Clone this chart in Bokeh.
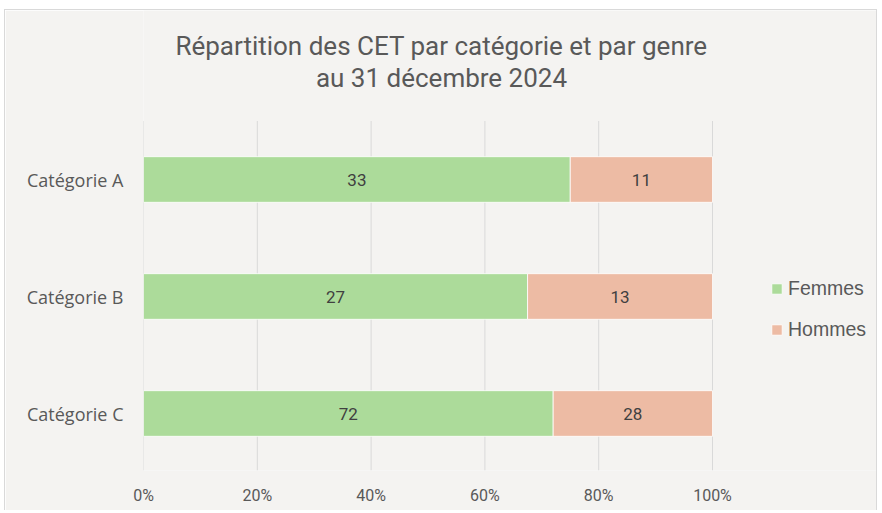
from bokeh.plotting import figure
from bokeh.models import (ColumnDataSource, Range1d, FixedTicker, Label,
                          Legend, LegendItem, NumeralTickFormatter)
from bokeh.core.properties import value
from bokeh.embed import file_html
from bokeh.resources import INLINE

categories = ["Catégorie A", "Catégorie B", "Catégorie C"]
femmes = [33, 27, 72]
hommes = [11, 13, 28]
series = ["Femmes", "Hommes"]
colors = ["#ACDB9A", "#EDBBA4"]
x_ticks = [0, 0.2, 0.4, 0.6, 0.8, 1.0]
title_lines = ["Répartition des CET par catégorie et par genre", "au 31 décembre 2024"]

FONT = "Roboto"
BG = "#F4F3F1"
TXT = "#595959"

n = len(categories)
ypos = [n - 1 - i for i in range(n)]           # first category on top
tot = [f + h for f, h in zip(femmes, hommes)]
pf = [f / t for f, t in zip(femmes, tot)]
ph = [h / t for h, t in zip(hommes, tot)]
src = ColumnDataSource(dict(
    y=ypos, Femmes=pf, Hommes=ph,
    fmid=[v / 2 for v in pf], hmid=[a + b / 2 for a, b in zip(pf, ph)],
    flab=[str(v) for v in femmes], hlab=[str(v) for v in hommes],
))

# layout: canvas placed at page (OX, OY) inside a 1px border
OX, OY = 5, 10
W, H = 873, 501
FL_PAGE, FB_PAGE = 143, 470      # frame left / bottom in page pixels
FL, FB = FL_PAGE - OX, FB_PAGE - OY
PX_X = 569                       # pixels for 0..100 %
PX_Y = 117                       # pixels between category rows
Y_LOW = 413 - OY                 # pixel row of the lowest category
x_start, x_end = 0, (W - FL) / PX_X
y_start, y_end = -(FB - Y_LOW) / PX_Y, Y_LOW / PX_Y

p = figure(width=W, height=H, output_backend="svg", toolbar_location=None,
           x_range=Range1d(x_start, x_end), y_range=Range1d(y_start, y_end),
           min_border_left=FL, min_border_right=0, min_border_top=0, min_border_bottom=H - FB,
           background_fill_color=BG, border_fill_color=BG, outline_line_color=None,
           styles={"margin-left": f"{OX - 1}px", "margin-top": f"{OY - 1}px",
                   "border": "1px solid #D9D9D9", "border-bottom": "none"})

# vertical gridlines, limited to the bar area
p.segment(x0=x_ticks, x1=x_ticks, y0=[y_start] * len(x_ticks), y1=[n - 0.5] * len(x_ticks),
          line_color="#D9D9D9", line_width=1, level="underlay")

rs = p.hbar_stack(series, y="y", height=0.39, color=colors, source=src,
                  line_color="white", line_width=0.8)

for xcol, tcol in (("fmid", "flab"), ("hmid", "hlab")):
    p.text(x=xcol, y="y", text=tcol, source=src, text_align="center", text_baseline="middle",
           text_font=value(FONT), text_font_size="17px", text_color="#404040")

p.xaxis.ticker = FixedTicker(ticks=x_ticks)
p.xaxis.formatter = NumeralTickFormatter(format="0%")
p.yaxis.ticker = FixedTicker(ticks=ypos)
p.yaxis.major_label_overrides = {yp: c for yp, c in zip(ypos, categories)}
for ax in (p.xaxis[0], p.yaxis[0]):
    ax.axis_line_color = None
    ax.major_tick_line_color = None
    ax.minor_tick_line_color = None
    ax.major_tick_out = 0
    ax.major_tick_in = 0
    ax.minor_tick_out = 0
    ax.major_label_text_color = TXT
p.xaxis.major_label_text_font = FONT
p.xaxis.major_label_text_font_size = "16px"
p.yaxis.major_label_text_font = "Open Sans"
p.yaxis.major_label_text_font_size = "18px"
p.xaxis.major_label_standoff = 15
p.yaxis.major_label_standoff = 20
p.grid.grid_line_color = None

# title lines (screen units, relative to the frame's bottom-left corner)
for t, base_page in zip(title_lines, (45, 77)):
    p.add_layout(Label(x=441 - FL_PAGE, y=FB_PAGE - base_page, x_units="screen", y_units="screen",
                       text=t, text_align="center", text_baseline="alphabetic", text_font=FONT,
                       text_font_size="26px", text_color=TXT))

legend = Legend(items=[LegendItem(label=s, renderers=[r]) for s, r in zip(series, rs)],
                location=(770 - FL_PAGE, FB_PAGE - 341), orientation="vertical",
                background_fill_alpha=0, border_line_color=None, padding=0, margin=0, spacing=18,
                glyph_width=13, glyph_height=13, label_height=20, label_standoff=5,
                label_text_font="Liberation Sans", label_text_font_size="19.5px",
                label_text_color=TXT)
p.add_layout(legend, "center")

open("out.html", "w").write(file_html(p, INLINE))
